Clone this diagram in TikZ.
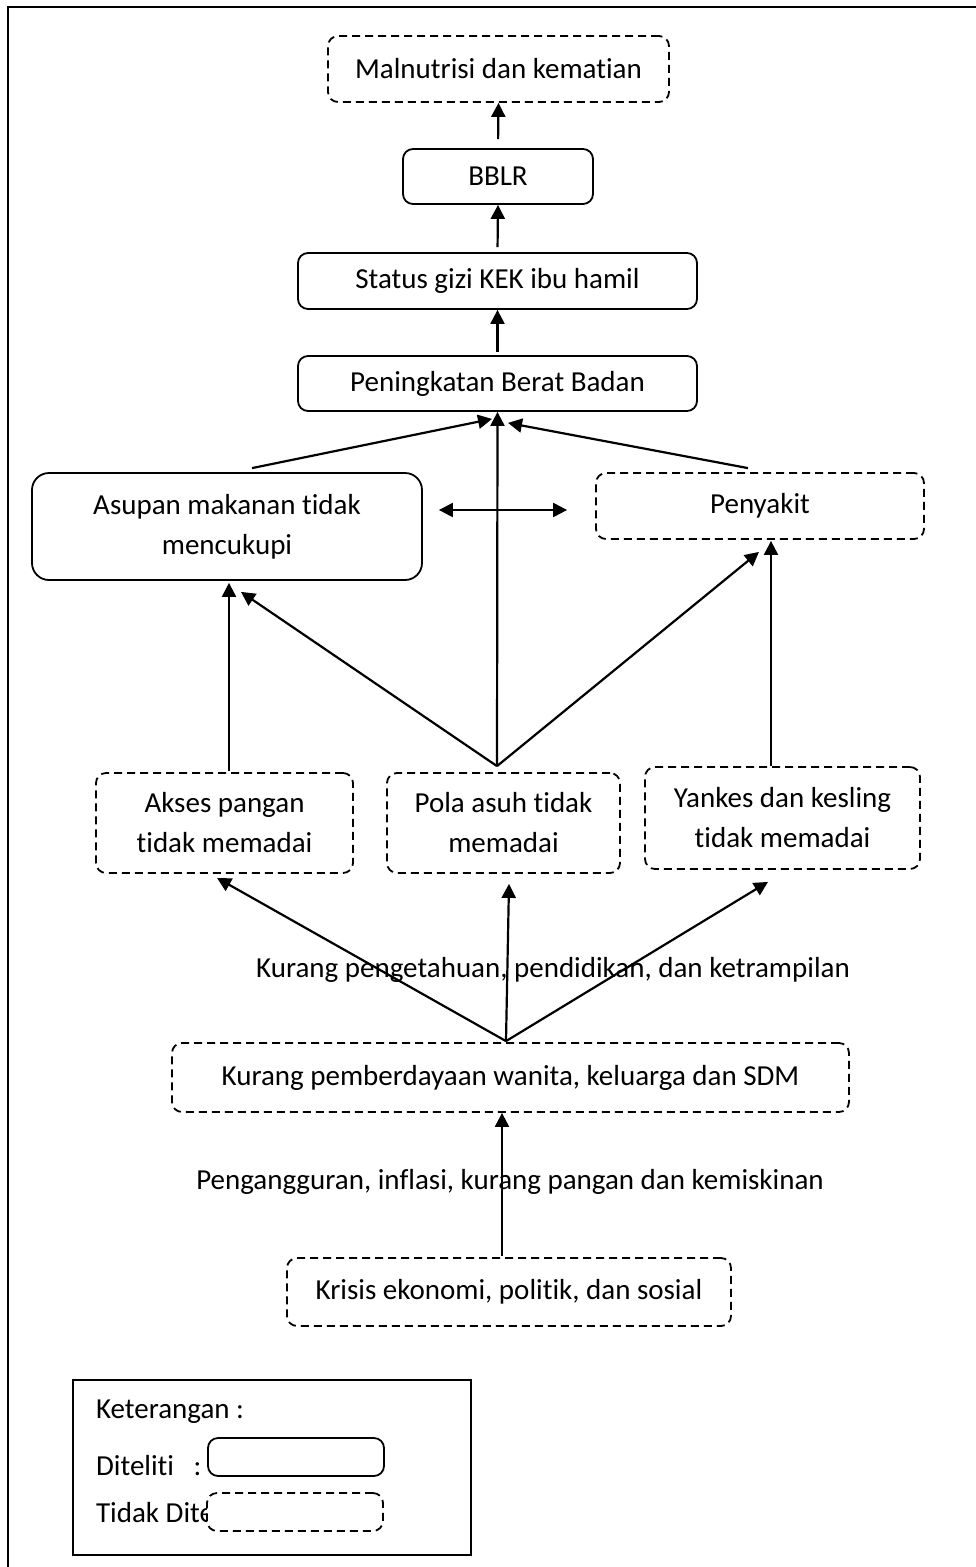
\documentclass[tikz,border=0pt]{standalone}
\usepackage{fontspec}
\setmainfont{Carlito}[Ligatures={NoCommon,NoRare,NoDiscretionary}]
\usetikzlibrary{arrows.meta}
\tikzset{>={Triangle[width=14pt,length=14pt]}}
\tikzset{diteliti/.style={draw,line width=1.8pt,rounded corners=10pt,inner sep=0pt,align=center},
  tidakditeliti/.style={diteliti,dash pattern=on 8pt off 5pt}}

\begin{document}
\begin{tikzpicture}[x=1pt,y=-1pt,font=\fontsize{29}{40}\selectfont,line width=2.2pt]
\useasboundingbox (0,0) rectangle (976,1567);
\draw[line width=1.5pt] (990,7) -- (8,7) -- (8,1580);   % bingkai
\node[tidakditeliti,minimum width=341pt,minimum height=66pt] (mal) at (498.5,69) {Malnutrisi dan kematian};
\node[diteliti,minimum width=190pt,minimum height=55pt] (bblr) at (498,176.5) {BBLR};
\node[diteliti,minimum width=399pt,minimum height=56pt] (kek) at (497.5,281) {Status gizi KEK ibu hamil};
\node[diteliti,minimum width=399pt,minimum height=55pt] (bb) at (497.5,383.5) {Peningkatan Berat Badan};
\node[diteliti,rounded corners=17pt,minimum width=390pt,minimum height=107pt] (asupan) at (227,526.5) {Asupan makanan tidak\\mencukupi};
\node[tidakditeliti,minimum width=328pt,minimum height=66pt] (sakit) at (760,506) {Penyakit};
\node[tidakditeliti,minimum width=257pt,minimum height=100pt] (akses) at (224.5,823) {Akses pangan\\tidak memadai};
\node[tidakditeliti,minimum width=233pt,minimum height=100pt] (pola) at (503.5,823) {Pola asuh tidak\\memadai};
\node[tidakditeliti,minimum width=275pt,minimum height=102pt] (yankes) at (782.5,818) {Yankes dan kesling\\tidak memadai};
\node (tahu) at (553,970) {Kurang pengetahuan, pendidikan, dan ketrampilan};
\node[tidakditeliti,minimum width=677pt,minimum height=69pt] (daya) at (510.5,1077.5) {Kurang pemberdayaan wanita, keluarga dan SDM};
\node (miskin) at (510,1182) {Pengangguran, inflasi, kurang pangan dan kemiskinan};
\node[tidakditeliti,minimum width=444pt,minimum height=68pt] (krisis) at (509,1292) {Krisis ekonomi, politik, dan sosial};
\coordinate (pusat) at ([xshift=-6.5pt,yshift=6pt]pola.north);
\coordinate (pusatdaya) at ([xshift=-4.5pt,yshift=1pt]daya.north);

\draw[->,shorten <=9pt] (bblr.north) -- (mal.south);
\draw[->,shorten <=5pt] (kek.north) -- (bblr.south);
\draw[->,shorten <=3pt] (bb.north) -- (kek.south);
\draw[->] ([xshift=25pt,yshift=4pt]asupan.north) -- ([xshift=-5.5pt,yshift=-7pt]bb.south);
\draw[->] ([xshift=-12pt,yshift=4pt]sakit.north) -- ([xshift=10.5pt,yshift=-11pt]bb.south);
\draw[<->] ([xshift=16pt,yshift=16.5pt]asupan.east) -- ([xshift=-28pt,yshift=-4pt]sakit.west);
\draw[->] (pusat) -- (bb.south);
\draw[->] (pusat) -- ([xshift=14pt,yshift=-11pt]asupan.south);
\draw[->] (pusat) -- ([xshift=-1pt,yshift=-12pt]sakit.south);
\draw[->] ([xshift=4.5pt,yshift=1pt]akses.north) -- ([xshift=2pt,yshift=-2pt]asupan.south);
\draw[->] ([xshift=-11.5pt]yankes.north) -- ([xshift=11pt,yshift=-1pt]sakit.south);
\draw[->] (pusatdaya) -- ([xshift=-7.5pt,yshift=-4pt]akses.south);
\draw[->] (pusatdaya) -- ([xshift=5.5pt,yshift=-10pt]pola.south);
\draw[->] (pusatdaya) -- ([xshift=-14.5pt,yshift=-12pt]yankes.south);
\draw[->] ([xshift=-7pt,yshift=1pt]krisis.north) -- ([xshift=-8.5pt]daya.south);

% keterangan
\draw[line width=1.5pt] (73,1380) rectangle (471,1555);
\node[anchor=west,inner sep=0pt] (ket) at (95,1412) {Keterangan :};
\node[anchor=west,inner sep=0pt] (ya) at (95,1466) {Diteliti~~~:};
\node[anchor=west,inner sep=0pt] (tidak) at (95,1513) {Tidak Diteliti :};
\node[diteliti,minimum width=176pt,minimum height=38pt] (kotakya) at (296,1457) {};
\node[tidakditeliti,fill=white,minimum width=176pt,minimum height=38pt] (kotaktidak) at (295,1512) {};
\end{tikzpicture}
\end{document}
